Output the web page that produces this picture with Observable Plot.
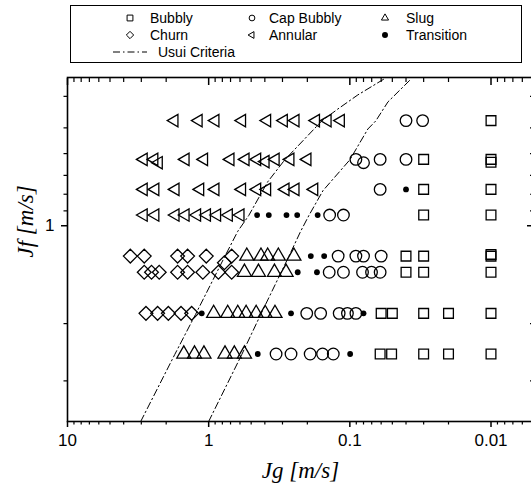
<!DOCTYPE html>
<html>
<head>
<meta charset="utf-8">
<script src="https://cdn.jsdelivr.net/npm/d3@7"></script>
<script src="https://cdn.jsdelivr.net/npm/@observablehq/plot@0.6"></script>
<style>
html, body { margin: 0; padding: 0; background: #fff; overflow: hidden; width: 531px; height: 483px; }
#legend { display: block; width: 531px; height: 70px; }
#chart { width: 531px; height: 413px; overflow: hidden; }
</style>
</head>
<body>
<div id="legend"></div>
<div id="chart"></div>
<script>
// ---------- data: [Jg (m/s), Jf (m/s)] ----------
const bubbly = [
  [0.01, 0.475],
  [0.03, 0.625], [0.01, 0.625], [0.01, 0.638],
  [0.03, 0.773], [0.01, 0.773],
  [0.03, 0.927], [0.01, 0.927],
  [0.04, 1.24], [0.03, 1.24], [0.01, 1.24], [0.01, 1.225],
  [0.04, 1.39], [0.03, 1.39], [0.01, 1.39],
  [0.06, 1.86], [0.05, 1.86], [0.03, 1.86], [0.02, 1.86], [0.01, 1.86],
  [0.061, 2.48], [0.0506, 2.48], [0.03, 2.48], [0.02, 2.48], [0.01, 2.48]
];
const capBubbly = [
  [0.040, 0.475], [0.0305, 0.475],
  [0.0906, 0.625], [0.080, 0.64], [0.061, 0.625], [0.040, 0.625],
  [0.061, 0.773],
  [0.139, 0.927], [0.111, 0.927],
  [0.121, 1.24], [0.0906, 1.24], [0.080, 1.24], [0.060, 1.24],
  [0.140, 1.39], [0.111, 1.39], [0.0813, 1.39], [0.0702, 1.39], [0.061, 1.39],
  [0.202, 1.86], [0.161, 1.86], [0.119, 1.86], [0.104, 1.86], [0.0906, 1.86],
  [0.333, 2.48], [0.261, 2.48], [0.191, 2.48], [0.156, 2.48], [0.131, 2.48]
];
const slug = [
  [0.537, 1.24], [0.426, 1.24], [0.382, 1.24], [0.321, 1.24], [0.249, 1.24],
  [0.558, 1.39], [0.444, 1.39], [0.342, 1.39], [0.283, 1.39],
  [0.922, 1.86], [0.733, 1.86], [0.622, 1.86], [0.543, 1.86], [0.461, 1.86], [0.398, 1.86], [0.339, 1.86],
  [1.50, 2.48], [1.26, 2.48], [1.08, 2.48], [0.766, 2.48], [0.658, 2.48], [0.558, 2.48]
];
const churn = [
  [3.59, 1.24], [2.86, 1.24], [1.66, 1.24], [1.41, 1.24], [1.04, 1.24], [0.687, 1.24], [0.774, 1.30],
  [2.86, 1.39], [2.54, 1.39], [2.24, 1.39], [1.66, 1.39], [1.41, 1.39], [1.10, 1.39], [0.853, 1.39], [0.687, 1.39],
  [2.78, 1.86], [2.30, 1.86], [1.93, 1.86], [1.57, 1.86], [1.32, 1.86]
];
const annular = [
  [1.75, 0.475], [1.18, 0.475], [0.897, 0.475], [0.581, 0.475], [0.386, 0.475], [0.294, 0.475], [0.243, 0.475], [0.174, 0.475], [0.144, 0.475], [0.116, 0.475],
  [2.89, 0.625], [2.43, 0.625], [2.26, 0.64], [1.46, 0.625], [1.08, 0.625], [0.702, 0.625], [0.549, 0.625], [0.454, 0.625], [0.396, 0.635], [0.336, 0.625], [0.264, 0.625], [0.20, 0.625],
  [2.89, 0.773], [2.39, 0.773], [1.72, 0.773], [1.15, 0.773], [0.897, 0.773], [0.581, 0.773], [0.454, 0.773], [0.386, 0.773], [0.286, 0.773], [0.243, 0.773], [0.179, 0.773],
  [2.89, 0.927], [2.39, 0.927], [1.72, 0.927], [1.46, 0.927], [1.21, 0.927], [1.03, 0.927], [0.873, 0.927], [0.721, 0.927], [0.596, 0.927]
];
const transition = [
  [0.040, 0.773],
  [0.454, 0.927], [0.375, 0.927], [0.281, 0.927], [0.236, 0.927], [0.169, 0.927],
  [0.189, 1.24], [0.152, 1.24],
  [0.234, 1.39], [0.171, 1.39],
  [1.12, 1.86], [0.261, 1.86], [0.080, 1.86],
  [0.449, 2.48], [0.0995, 2.48]
];
// Usui criteria curves
const usuiLeft = [
  [3.03, 4.0], [1.74, 2.49], [1.24, 1.875], [0.770, 1.245], [0.622, 1.04], [0.520, 0.93],
  [0.382, 0.733], [0.289, 0.627], [0.158, 0.476], [0.122, 0.438], [0.0878, 0.396], [0.0574, 0.354]
];
const usuiRight = [
  [1.0, 4.0], [0.583, 2.49], [0.428, 1.875], [0.271, 1.245], [0.223, 1.04], [0.195, 0.93],
  [0.155, 0.78], [0.1, 0.627], [0.0745, 0.504], [0.0655, 0.476], [0.0537, 0.416], [0.0369, 0.354]
];

// ---------- axes ----------
const xDomain = [10, 0.005];
const yDomain = [4, 0.35];
const xMajorTicks = [10, 1, 0.1, 0.01];
const xMinorTicks = [9, 8, 7, 6, 5, 4, 3, 2, 0.9, 0.8, 0.7, 0.6, 0.5, 0.4, 0.3, 0.2,
  0.09, 0.08, 0.07, 0.06, 0.05, 0.04, 0.03, 0.02, 0.009, 0.008, 0.007, 0.006];
const yMajorTicks = [1];
const yMinorTicks = [0.4, 0.5, 0.6, 0.7, 0.8, 0.9, 2, 3];
const xTitle = "Jg [m/s]";
const yTitle = "Jf [m/s]";
const legendLabels = ["Bubbly", "Cap Bubbly", "Slug", "Churn", "Annular", "Transition", "Usui Criteria"];

// ---------- styling ----------
const ink = "#000";
const sw = 1.3;
const dashDot = "7,3,1.5,3";
const leftTriangle = {
  draw(ctx, size) {
    const y = Math.sqrt(size / (3 * Math.sqrt(3)));
    ctx.moveTo(-2 * y, 0);
    ctx.lineTo(y, -Math.sqrt(3) * y);
    ctx.lineTo(y, Math.sqrt(3) * y);
    ctx.closePath();
  }
};
const pts = arr => arr.map(([jg, jf]) => ({jg, jf}));
const blank = () => "";
const serif = "'Liberation Serif', 'Times New Roman', serif";

const chart = Plot.plot({
  width: 533,
  height: 413,
  marginLeft: 67,
  marginRight: 0,
  marginTop: 7,
  marginBottom: 62,
  style: {fontFamily: "'Liberation Sans', Arial, sans-serif", color: ink, background: "#fff", maxWidth: "none", overflow: "visible"},
  x: {type: "log", domain: xDomain, axis: null},
  y: {type: "log", domain: yDomain, axis: null},
  marks: [
    Plot.line(usuiLeft, {x: d => d[0], y: d => d[1], stroke: ink, strokeWidth: 1, strokeDasharray: dashDot, clip: true}),
    Plot.line(usuiRight, {x: d => d[0], y: d => d[1], stroke: ink, strokeWidth: 1, strokeDasharray: dashDot, clip: true}),
    Plot.dot(pts(bubbly), {x: "jg", y: "jf", symbol: "square", r: 5.5, stroke: ink, strokeWidth: sw, fill: "none"}),
    Plot.dot(pts(capBubbly), {x: "jg", y: "jf", symbol: "circle", r: 5.8, stroke: ink, strokeWidth: sw, fill: "none"}),
    Plot.dot(pts(slug), {x: "jg", y: "jf", symbol: "triangle", r: 5.2, stroke: ink, strokeWidth: sw, fill: "none"}),
    Plot.dot(pts(churn), {x: "jg", y: "jf", symbol: "diamond2", r: 6.2, stroke: ink, strokeWidth: sw, fill: "none"}),
    Plot.dot(pts(annular), {x: "jg", y: "jf", symbol: leftTriangle, r: 4.6, stroke: ink, strokeWidth: sw, fill: "none"}),
    Plot.dot(pts(transition), {x: "jg", y: "jf", symbol: "circle", r: 2.9, fill: ink, stroke: "none"}),
    Plot.frame({stroke: ink, strokeWidth: 1.6}),
    // bottom axis
    Plot.axisX(xMinorTicks, {anchor: "bottom", tickSize: 3.5, tickFormat: blank, label: null, strokeWidth: 1.2}),
    Plot.axisX(xMajorTicks, {anchor: "bottom", tickSize: 6, tickPadding: 6, tickFormat: d => String(d), fontSize: 17, label: null, strokeWidth: 1.5}),
    // top axis (ticks pointing in)
    Plot.axisX(xMinorTicks, {anchor: "top", tickSize: 4, dy: 4, tickFormat: blank, label: null, strokeWidth: 1.2}),
    Plot.axisX(xMajorTicks, {anchor: "top", tickSize: 7, dy: 7, tickFormat: blank, label: null, strokeWidth: 1.5}),
    // left axis
    Plot.axisY(yMinorTicks, {anchor: "left", tickSize: 3.5, tickFormat: blank, label: null, strokeWidth: 1.2}),
    Plot.axisY(yMajorTicks, {anchor: "left", tickSize: 6, tickPadding: 7, tickFormat: d => String(d), fontSize: 17, label: null, strokeWidth: 1.5}),
    // right axis (ticks pointing in)
    Plot.axisY(yMinorTicks, {anchor: "right", tickSize: 4, dx: -4, tickFormat: blank, label: null, strokeWidth: 1.2}),
    Plot.axisY(yMajorTicks, {anchor: "right", tickSize: 7, dx: -7, tickFormat: blank, label: null, strokeWidth: 1.5}),
    // titles
    Plot.text([xTitle], {text: d => d, frameAnchor: "bottom", dy: 49, lineAnchor: "middle", fontFamily: serif, fontStyle: "italic", fontSize: 23, fill: ink}),
    Plot.text([yTitle], {text: d => d, frameAnchor: "left", dx: -42, dy: 8, rotate: -90, lineAnchor: "middle", fontFamily: serif, fontStyle: "italic", fontSize: 23, fill: ink})
  ]
});
document.getElementById("chart").appendChild(chart);

// ---------- legend ----------
const lg = d3.select("#legend").append("svg")
  .attr("width", 531).attr("height", 70)
  .style("display", "block")
  .style("font-family", "'Liberation Sans', Arial, sans-serif")
  .style("font-size", "14px");
lg.append("rect").attr("x", 70.5).attr("y", 5.5).attr("width", 451).attr("height", 57)
  .attr("fill", "none").attr("stroke", ink).attr("stroke-width", 1);

const colSym = [130, 252, 385];
const colText = [150, 269, 406];
const rowBase = [23, 40, 57];
const legendSymbols = [
  {type: d3.symbolSquare, size: 34, fill: false},
  {type: d3.symbolCircle, size: 26, fill: false},
  {type: d3.symbolTriangle, size: 22, fill: false},
  {type: d3.symbolDiamond2, size: 34, fill: false},
  {type: leftTriangle, size: 20, fill: false},
  {type: d3.symbolCircle, size: 28, fill: true}
];
legendSymbols.forEach((s, i) => {
  const col = i % 3, row = Math.floor(i / 3);
  lg.append("path")
    .attr("transform", `translate(${colSym[col]},${rowBase[row] - 5})`)
    .attr("d", d3.symbol(s.type, s.size)())
    .attr("fill", s.fill ? ink : "none")
    .attr("stroke", s.fill ? "none" : ink)
    .attr("stroke-width", 1);
  lg.append("text").attr("x", colText[col]).attr("y", rowBase[row]).attr("fill", ink).text(legendLabels[i]);
});
lg.append("line").attr("x1", 113).attr("x2", 147).attr("y1", rowBase[2] - 5).attr("y2", rowBase[2] - 5)
  .attr("stroke", ink).attr("stroke-width", 1).attr("stroke-dasharray", dashDot);
lg.append("text").attr("x", 158).attr("y", rowBase[2]).attr("fill", ink).text(legendLabels[6]);
</script>
</body>
</html>
